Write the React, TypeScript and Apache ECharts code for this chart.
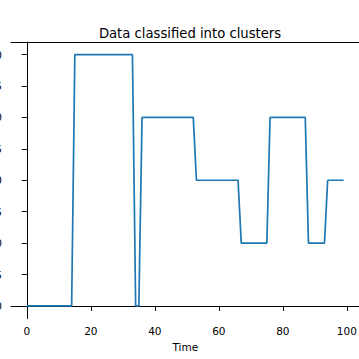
import React, { useEffect, useRef } from "react";
import * as echarts from "echarts";

const title = "Data classified into clusters";
const xName = "Time";
const clusterValues: number[] = [
  0, 0, 0, 0, 0, 0, 0, 0, 0, 0, 0, 0, 0, 0, 0,
  4, 4, 4, 4, 4, 4, 4, 4, 4, 4, 4, 4, 4, 4, 4, 4, 4, 4, 4,
  0, 0,
  3, 3, 3, 3, 3, 3, 3, 3, 3, 3, 3, 3, 3, 3, 3, 3, 3,
  2, 2, 2, 2, 2, 2, 2, 2, 2, 2, 2, 2, 2, 2,
  1, 1, 1, 1, 1, 1, 1, 1, 1,
  3, 3, 3, 3, 3, 3, 3, 3, 3, 3, 3, 3,
  1, 1, 1, 1, 1, 1,
  2, 2, 2, 2, 2, 2,
];
const xTicks: number[] = [0, 20, 40, 60, 80, 100];
const yTicks: number[] = [0, 0.5, 1, 1.5, 2, 2.5, 3, 3.5, 4];

export default function App() {
  const ref = useRef<HTMLDivElement>(null);
  useEffect(() => {
    if (!ref.current) return;
    const chart = echarts.init(ref.current, undefined, { renderer: "svg" });
    const n = clusterValues.length;
    const xMin = 0 - 0.05 * (n - 1);
    const xMax = n - 1 + 0.05 * (n - 1);
    const font = "'DejaVu Sans', sans-serif";
    chart.setOption({
      animation: false,
      title: {
        text: title,
        left: 185,
        top: 22,
        textAlign: "center",
        textStyle: { fontSize: 13.2, fontWeight: "normal", color: "#000", fontFamily: font },
      },
      grid: {
        left: 11,
        width: 348.5,
        top: 42,
        height: 276.5,
        containLabel: false,
        outerBoundsMode: "none",
        show: false,
      },
      xAxis: [
        {
          type: "value",
          min: xMin,
          max: xMax,
          name: xName,
          nameLocation: "middle",
          nameGap: 23,
          nameTextStyle: { fontSize: 10.5, color: "#000", fontFamily: font },
          splitLine: { show: false },
          axisLine: { show: true, lineStyle: { color: "#000", width: 1 } },
          axisTick: { show: true, length: 5, customValues: xTicks, lineStyle: { color: "#000" } },
          axisLabel: {
            customValues: xTicks,
            margin: 7,
            fontSize: 10.5,
            color: "#000",
            fontFamily: font,
          },
        },
        {
          type: "value",
          position: "top",
          min: xMin,
          max: xMax,
          splitLine: { show: false },
          axisLine: { show: true, lineStyle: { color: "#000", width: 1 } },
          axisTick: { show: false },
          axisLabel: { show: false },
        },
      ],
      yAxis: {
        type: "value",
        min: -0.2,
        max: 4.2,
        splitLine: { show: false },
        axisLine: { show: true, lineStyle: { color: "#000", width: 1 } },
        axisTick: { show: true, length: 5, customValues: yTicks, lineStyle: { color: "#000" } },
        axisLabel: {
          customValues: yTicks,
          margin: 9,
          fontSize: 10.5,
          color: "#000",
          fontFamily: font,
          formatter: (v: number) => v.toFixed(1),
        },
      },
      series: [
        {
          type: "line",
          xAxisIndex: 0,
          data: clusterValues.map((v, i) => [i, v]),
          showSymbol: false,
          symbol: "none",
          lineStyle: { color: "#1f77b4", width: 1.7 },
        },
      ],
    });
    return () => chart.dispose();
  }, []);
  return (
    <div
      ref={ref}
      style={{ position: "fixed", left: 0, top: 0, width: 359, height: 359, background: "#fff" }}
    />
  );
}
